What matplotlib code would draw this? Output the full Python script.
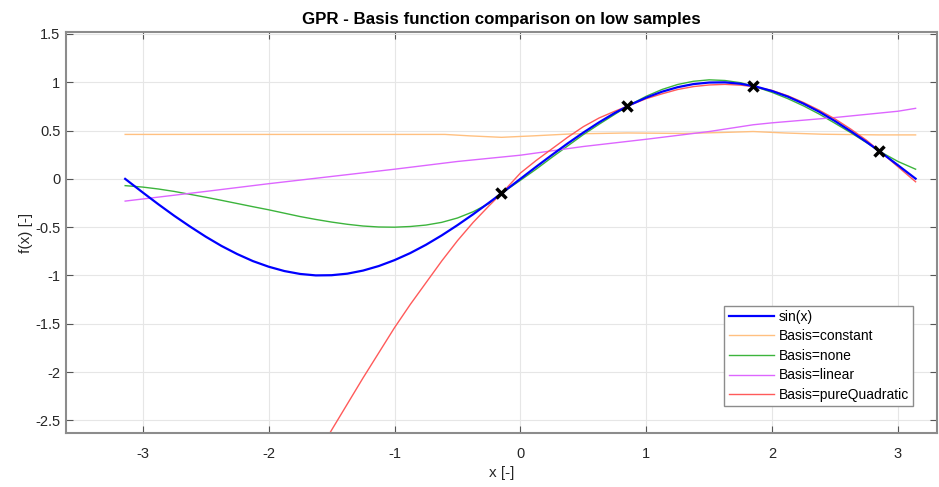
import matplotlib
matplotlib.use("Agg")
import matplotlib.pyplot as plt

plt.rcParams['font.family'] = ['Liberation Sans', 'DejaVu Sans']
plt.rcParams['axes.unicode_minus'] = False

# ---- data ----
x_grid = [-3.14, -3.0, -2.875, -2.75, -2.625, -2.5, -2.375, -2.25, -2.125, -2.0,
          -1.875, -1.75, -1.625, -1.5, -1.375, -1.25, -1.125, -1.0, -0.875, -0.75,
          -0.625, -0.5, -0.375, -0.25, -0.125, 0.0, 0.125, 0.25, 0.375, 0.5,
          0.625, 0.75, 0.875, 1.0, 1.125, 1.25, 1.375, 1.5, 1.625, 1.75,
          1.875, 2.0, 2.125, 2.25, 2.375, 2.5, 2.625, 2.75, 2.875, 3.0, 3.14]

sin_y = [0.000, -0.141, -0.264, -0.382, -0.493, -0.598, -0.694, -0.778, -0.851, -0.909,
         -0.954, -0.984, -0.999, -0.997, -0.981, -0.949, -0.902, -0.841, -0.768, -0.682,
         -0.585, -0.479, -0.366, -0.247, -0.125, 0.000, 0.125, 0.247, 0.366, 0.479,
         0.585, 0.682, 0.768, 0.841, 0.902, 0.949, 0.981, 0.997, 0.999, 0.984,
         0.954, 0.909, 0.851, 0.778, 0.694, 0.598, 0.493, 0.382, 0.264, 0.141, 0.002]

none_y = [-0.070, -0.085, -0.105, -0.130, -0.160, -0.190, -0.222, -0.255, -0.288, -0.320,
          -0.355, -0.390, -0.420, -0.447, -0.470, -0.488, -0.498, -0.500, -0.493, -0.478,
          -0.450, -0.405, -0.340, -0.255, -0.127, -0.015, 0.100, 0.222, 0.340, 0.458,
          0.565, 0.668, 0.770, 0.855, 0.925, 0.977, 1.010, 1.025, 1.018, 0.995,
          0.950, 0.895, 0.830, 0.755, 0.670, 0.575, 0.478, 0.375, 0.270, 0.180, 0.100]

const_x = [-3.14, -2.0, -1.0, -0.6, -0.4, -0.15, 0.1, 0.4, 0.85, 1.3, 1.6, 1.85,
           2.1, 2.4, 2.85, 3.14]
const_y = [0.46, 0.46, 0.46, 0.46, 0.445, 0.43, 0.445, 0.465, 0.475, 0.47, 0.48, 0.49,
           0.475, 0.462, 0.455, 0.455]

lin_x = [-3.14, -2.5, -2.0, -1.5, -1.0, -0.5, 0.0, 0.5, 1.0, 1.5, 1.85, 2.0, 2.5,
         3.0, 3.14]
lin_y = [-0.23, -0.13, -0.05, 0.025, 0.10, 0.18, 0.245, 0.335, 0.41, 0.49, 0.56, 0.58,
         0.635, 0.70, 0.73]

quad_x = [-1.625, -1.5, -1.375, -1.25, -1.125, -1.0, -0.875, -0.75, -0.625, -0.5,
          -0.375, -0.25, -0.125, 0.0, 0.125, 0.25, 0.375, 0.5, 0.625, 0.75,
          0.875, 1.0, 1.125, 1.25, 1.375, 1.5, 1.625, 1.75, 1.875, 2.0,
          2.125, 2.25, 2.375, 2.5, 2.625, 2.75, 2.875, 3.0, 3.14]
quad_y = [-2.88, -2.60, -2.33, -2.06, -1.80, -1.54, -1.30, -1.075, -0.85, -0.64,
          -0.45, -0.28, -0.117, 0.06, 0.19, 0.31, 0.43, 0.54, 0.63, 0.70,
          0.765, 0.83, 0.88, 0.925, 0.955, 0.972, 0.978, 0.97, 0.95, 0.915,
          0.86, 0.79, 0.71, 0.62, 0.515, 0.40, 0.265, 0.125, -0.03]

sample_x = [-0.15, 0.85, 1.85, 2.85]
sample_y = [-0.149, 0.751, 0.961, 0.288]

x_ticks = [-3, -2, -1, 0, 1, 2, 3]
y_ticks = [-2.5, -2, -1.5, -1, -0.5, 0, 0.5, 1, 1.5]
y_tick_labels = ['-2.5', '-2', '-1.5', '-1', '-0.5', '0', '0.5', '1', '1.5']

# ---- figure ----
fig = plt.figure(figsize=(9.39, 4.87), dpi=100)
ax = fig.add_axes([66 / 939, 54 / 487, 871 / 939, 401 / 487])

ax.plot(x_grid, sin_y, color='#0000ff', lw=1.6, label='sin(x)', zorder=3)
ax.plot(const_x, const_y, color='#ffc080', lw=1.0, label='Basis=constant', zorder=2)
ax.plot(x_grid, none_y, color='#3cb43c', lw=1.0, label='Basis=none', zorder=2)
ax.plot(lin_x, lin_y, color='#dd66ff', lw=1.0, label='Basis=linear', zorder=2)
ax.plot(quad_x, quad_y, color='#ff5a5a', lw=1.0, label='Basis=pureQuadratic', zorder=2)
ax.plot(sample_x, sample_y, linestyle='none', marker='x', color='black', ms=6.5, mew=2.5,
        zorder=4)

ax.set_xlim(-3.61, 3.31)
ax.set_ylim(-2.63, 1.52)
ax.set_xticks(x_ticks)
ax.set_yticks(y_ticks)
ax.set_yticklabels(y_tick_labels)

ax.grid(True, color='#e6e6e6', lw=0.8)
ax.set_axisbelow(True)
for s in ax.spines.values():
    s.set_color('#8c8c8c')
    s.set_linewidth(1.5)
ax.tick_params(direction='in', length=5, width=0.8, color='#555555',
               labelsize=10.5, labelcolor='#262626', top=True, right=True,
               labeltop=False, labelright=False)
ax.tick_params(axis='x', pad=10)
ax.tick_params(axis='y', pad=4)

ax.set_xlabel('x [-]', fontsize=11, color='#262626', labelpad=4)
ax.set_ylabel('f(x) [-]', fontsize=11, color='#262626', labelpad=1.5)
ax.set_title('GPR - Basis function comparison on low samples', fontsize=12.2,
             fontweight='bold', color='black', pad=6)

leg = ax.legend(loc='lower right', bbox_to_anchor=(0.9725, 0.067), borderaxespad=0,
                fontsize=10, handlelength=3.3, handletextpad=0.3, labelspacing=0.4,
                borderpad=0.3, fancybox=False, framealpha=1, edgecolor='#8c8c8c')
leg.get_frame().set_linewidth(1.0)

fig.savefig('out.png', dpi=100)
